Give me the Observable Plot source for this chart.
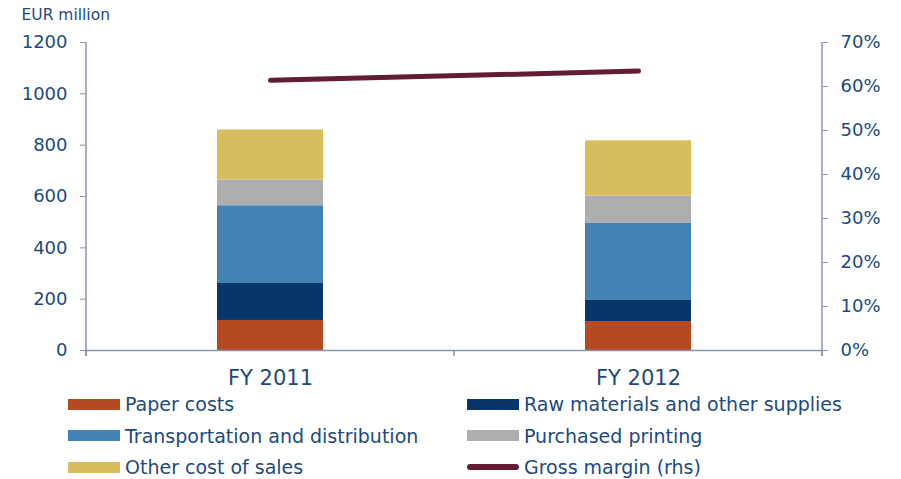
<!DOCTYPE html>
<html>
<head>
<meta charset="utf-8">
<script src="https://cdn.jsdelivr.net/npm/d3@7"></script>
<script src="https://cdn.jsdelivr.net/npm/@observablehq/plot@0.6"></script>
<style>
  html, body { margin: 0; padding: 0; background: #fff; }
  body { width: 901px; height: 479px; overflow: hidden; font-family: "DejaVu Sans", Verdana, sans-serif; color: #1D4A7E; }
  #chart svg { display: block; }
  #legend { position: relative; width: 901px; height: 85px; }
  .item { position: absolute; display: flex; align-items: center; font-size: 19px; white-space: nowrap; height: 30px; }
  .sw { width: 52px; height: 11px; margin-right: 5px; }
  .ln { width: 52px; height: 6px; border-radius: 3px; margin-right: 5px; }
</style>
</head>
<body>
<div id="chart"></div>
<div id="legend"></div>
<script>
// ---- data ----
const years = ["FY 2011", "FY 2012"];
const seriesNames = ["Paper costs", "Raw materials and other supplies", "Transportation and distribution", "Purchased printing", "Other cost of sales"];
const paperCosts = [117, 113];
const rawMaterials = [144, 82];
const transportation = [303, 300];
const purchasedPrinting = [100, 107];
const otherCost = [195, 215];
const grossMargin = [0.614, 0.635];
const lineName = "Gross margin (rhs)";
const leftTicks = [0, 200, 400, 600, 800, 1000, 1200];
const rightTicks = [0, 0.1, 0.2, 0.3, 0.4, 0.5, 0.6, 0.7];
const seriesColors = ["#B5491F", "#07376A", "#4282B4", "#AEAEB0", "#D8BD5F"];
const lineColor = "#641C33";
const axisColor = "#8A94AB";
const textColor = "#1D4A7E";

// ---- build ----
const seriesValues = [paperCosts, rawMaterials, transportation, purchasedPrinting, otherCost];
const rows = [];
years.forEach((yr, i) => seriesNames.forEach((s, j) => rows.push({year: yr, series: s, value: seriesValues[j][i]})));
const marginRows = years.map((yr, i) => ({year: yr, margin: grossMargin[i]}));
const yMax = leftTicks[leftTicks.length - 1];
const rMax = rightTicks[rightTicks.length - 1];
const k = yMax / rMax;

const plot = Plot.plot({
  width: 901,
  height: 394,
  marginLeft: 85,
  marginRight: 79,
  marginTop: 42,
  marginBottom: 44,
  style: {fontFamily: "DejaVu Sans, Verdana, sans-serif", color: textColor, background: "#fff"},
  x: {type: "band", domain: years, paddingInner: 0.712, paddingOuter: 0.356, align: 0.5},
  y: {domain: [0, yMax]},
  color: {domain: seriesNames, range: seriesColors},
  marks: [
    Plot.barY(rows, {x: "year", y: "value", fill: "series"}),
    Plot.ruleY([0], {stroke: axisColor, strokeWidth: 1.5}),
    Plot.line(marginRows, {x: "year", y: d => d.margin * k, stroke: lineColor, strokeWidth: 5, strokeLinecap: "round"}),
    Plot.axisY({anchor: "left", ticks: leftTicks, tickFormat: d => String(d), tickSize: 5, tickPadding: 13, fontSize: 18, stroke: axisColor, fill: textColor, label: null}),
    Plot.axisY({anchor: "right", ticks: rightTicks.map(t => t * k), tickFormat: d => Math.round(d / k * 100) + "%", tickSize: 5, tickPadding: 13, fontSize: 18, stroke: axisColor, fill: textColor, label: null}),
    Plot.axisX({tickSize: 0, tickPadding: 20, fontSize: 21, fill: textColor, label: null}),
    Plot.text(["EUR million"], {frameAnchor: "top-left", text: d => d, dx: -64, dy: -27, lineAnchor: "middle", textAnchor: "start", fontSize: 15.5, fill: textColor})
  ]
});
document.getElementById("chart").appendChild(plot);

// axis lines and category-boundary ticks from the scales
const xs = plot.scale("x"), ys = plot.scale("y");
const svg = d3.select(plot);
const y0 = ys.apply(0), yTop = ys.apply(yMax);
const step = xs.step, pad = (xs.paddingInner || 0) * step / 2;
const bounds = years.map(y => xs.apply(y) - pad).concat([xs.apply(years[years.length - 1]) + xs.bandwidth + pad]);
const g = svg.append("g").attr("stroke", axisColor).attr("stroke-width", 1.5);
g.append("line").attr("x1", bounds[0]).attr("x2", bounds[0]).attr("y1", yTop).attr("y2", y0 + 6);
g.append("line").attr("x1", bounds[bounds.length - 1]).attr("x2", bounds[bounds.length - 1]).attr("y1", yTop).attr("y2", y0 + 6);
bounds.forEach(b => g.append("line").attr("x1", b).attr("x2", b).attr("y1", y0).attr("y2", y0 + 6));

// ---- legend ----
const legend = document.getElementById("legend");
const items = seriesNames.map((s, j) => ({label: s, color: seriesColors[j], line: false}))
  .concat([{label: lineName, color: lineColor, line: true}]);
items.forEach((it, i) => {
  const col = i % 2, row = Math.floor(i / 2);
  const d = document.createElement("div");
  d.className = "item";
  d.style.left = (col === 0 ? 68 : 467) + "px";
  d.style.top = (-5 + row * 31.5) + "px";
  const sw = document.createElement("div");
  sw.className = it.line ? "ln" : "sw";
  sw.style.background = it.color;
  const t = document.createElement("span");
  t.textContent = it.label;
  d.appendChild(sw); d.appendChild(t);
  legend.appendChild(d);
});
</script>
</body>
</html>
